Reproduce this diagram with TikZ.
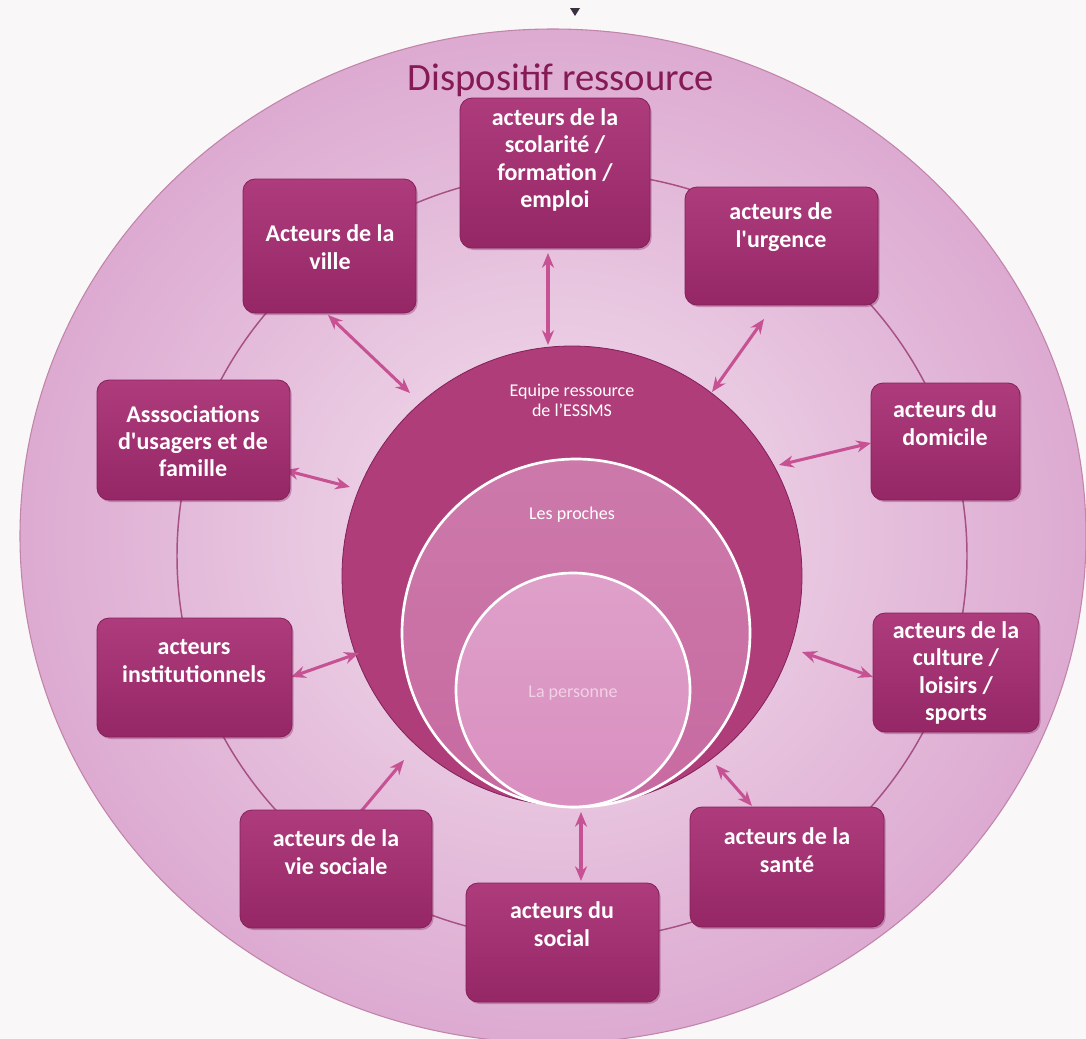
\documentclass[tikz,border=0pt]{standalone}
\usepackage{fontspec}
\setmainfont{Carlito}
\usetikzlibrary{arrows.meta,fit,shadows}
\definecolor{bgout}{HTML}{FAF7F9}
\definecolor{elin}{HTML}{F2E0EE}
\definecolor{elout}{HTML}{DDAAD1}
\definecolor{boxtop}{HTML}{AE3C7C}
\definecolor{boxbot}{HTML}{952767}
\definecolor{boxedge}{HTML}{84205A}
\definecolor{circA}{HTML}{AF3D7A}
\definecolor{circB}{HTML}{C76AA1}
\definecolor{circC}{HTML}{D98FC0}
\definecolor{arrowc}{HTML}{C65294}
\definecolor{ringc}{HTML}{A65083}
\definecolor{titlec}{HTML}{861A57}
\definecolor{marker}{HTML}{3A3040}
\tikzset{
  boxst/.style={rounded corners=9pt, draw=boxedge, line width=0.6pt,
    top color=boxtop, bottom color=boxbot, inner sep=0pt,
    drop shadow={shadow xshift=1.2pt, shadow yshift=-1.5pt, opacity=0.35, fill=boxedge}},
  boxtext/.style={text=white, font=\bfseries\fontsize{18}{20.5}\selectfont, align=center, inner sep=0pt},
  circtext/.style={text=white, font=\fontsize{13.5}{15}\selectfont, align=center, inner sep=0pt},
  link/.style={draw=arrowc, line width=2.3pt, {Stealth[length=11pt,width=9pt]}-{Stealth[length=11pt,width=9pt]}},
  onelink/.style={draw=arrowc, line width=2.3pt, -{Stealth[length=11pt,width=9pt]}},
  ringline/.style={draw=ringc, line width=1.1pt}
}
\begin{document}
\begin{tikzpicture}[x=0.75pt,y=-0.75pt]
\useasboundingbox (0,0) rectangle (1086,1039);
\fill[bgout] (0,0) rectangle (1086,1039);
\clip (0,0) rectangle (1086,1039);
% outer ellipse
\shade[inner color=elin, outer color=elout] (553,536) ellipse [x radius=533, y radius=507];
\draw[ringc!70, line width=0.8pt] (553,536) ellipse [x radius=533, y radius=507];
% top marker
\fill[marker] (570,8) -- (580,8) -- (575,16) -- cycle;
% title
\node (title) [text=titlec, font=\fontsize{29}{31}\selectfont, inner sep=0pt] at (561,80) {Dispositif ressource};
% ring
\draw[ringline] (572,556) ellipse [x radius=395, y radius=384];
% central circles
\fill[circA] (572,576) circle [radius=230];
\draw[boxedge, line width=0.6pt] (572,576) circle [radius=230];
\shade[top color=circB!90!white, bottom color=circB, draw=white, line width=2pt] (576,633) circle [radius=174];
\shade[top color=circC!85!white, bottom color=circC, draw=white, line width=2pt] (573,690) circle [radius=117];
\node (equipe) [circtext] at (572,400) {Equipe ressource\\de l’ESSMS};
\node (proches) [circtext] at (572,515) {Les proches};
\node (personne) [circtext, text=circC!40!white] at (573,693) {La personne};
% arrow end points
\coordinate (s1a) at (548,253); \coordinate (s1b) at (548,345);
\coordinate (s2a) at (764,319); \coordinate (s2b) at (712,392);
\coordinate (s3a) at (328,315); \coordinate (s3b) at (410,393);
\coordinate (s4a) at (284,470); \coordinate (s4b) at (350,487);
\coordinate (s5a) at (871,443); \coordinate (s5b) at (779,465);
\coordinate (s6a) at (873,677); \coordinate (s6b) at (802,652);
\coordinate (s7a) at (291,677); \coordinate (s7b) at (359,653);
\coordinate (s8a) at (358,815); \coordinate (s8b) at (404,760);
\coordinate (s9a) at (752,806); \coordinate (s9b) at (716,765);
\coordinate (s10a) at (581,881); \coordinate (s10b) at (581,812);
\draw[link] (s1a) -- (s1b);
\draw[link] (s2a) -- (s2b);
\draw[link] (s3a) -- (s3b);
\draw[link] (s4a) -- (s4b);
\draw[link] (s5a) -- (s5b);
\draw[link] (s6a) -- (s6b);
\draw[link] (s7a) -- (s7b);
\draw[onelink] (s8a) -- (s8b);
\draw[link] (s9a) -- (s9b);
\draw[link] (s10a) -- (s10b);
% boxes
\node (scol) [boxst, fit={(460,98) (650,248)}] {};
\node (ville) [boxst, fit={(243,179) (416,313)}] {};
\node (urg) [boxst, fit={(685,187) (878,305)}] {};
\node (dom) [boxst, fit={(871,383) (1020,500)}] {};
\node (assoc) [boxst, fit={(97,380) (290,500)}] {};
\node (cult) [boxst, fit={(873,613) (1039,732)}] {};
\node (inst) [boxst, fit={(97,618) (292,737)}] {};
\node (vie) [boxst, fit={(240,810) (432,928)}] {};
\node (sante) [boxst, fit={(690,807) (884,927)}] {};
\node (social) [boxst, fit={(466,883) (659,1002)}] {};
% box texts
\node (scolt) [boxtext] at (555,160) {acteurs de la\\scolarité /\\formation /\\emploi};
\node (villet) [boxtext] at (330,247) {Acteurs de la\\ville};
\node (urgt) [boxtext] at (781,227) {acteurs de\\l\textquotesingle urgence};
\node (domt) [boxtext] at (945,423) {acteurs du\\domicile};
\node (assoct) [boxtext] at (193,441) {Asssociations\\d\textquotesingle usagers et de\\famille};
\node (cultt) [boxtext] at (956,673) {acteurs de la\\culture /\\loisirs /\\sports};
\node (instt) [boxtext] at (194,661) {acteurs\\institutionnels};
\node (viet) [boxtext] at (336,852) {acteurs de la\\vie sociale};
\node (santet) [boxtext] at (787,850) {acteurs de la\\santé};
\node (socialt) [boxtext] at (562,924) {acteurs du\\social};
\end{tikzpicture}
\end{document}
